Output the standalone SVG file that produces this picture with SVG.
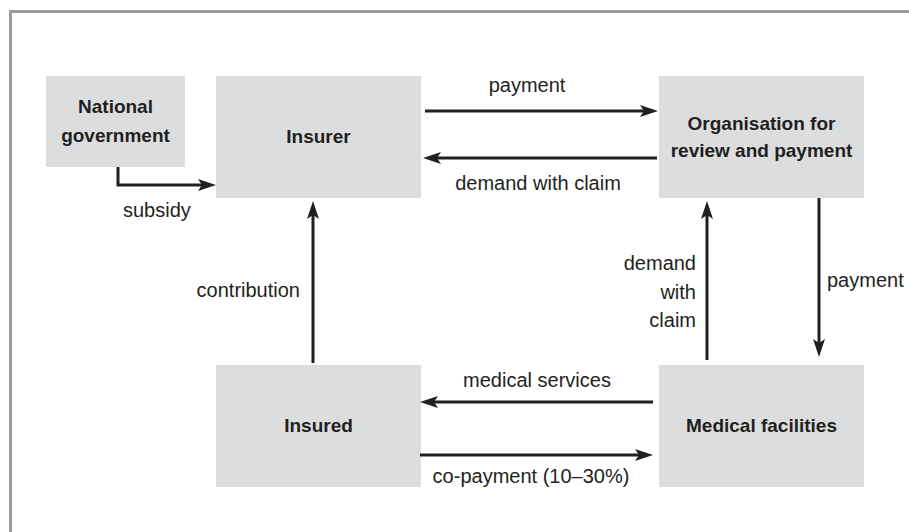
<svg xmlns="http://www.w3.org/2000/svg" width="909" height="532" viewBox="0 0 909 532">
  <style>
    .box { fill: #dcdddf; }
    .title { font-family: "Liberation Sans", Arial, sans-serif; font-weight: bold; font-size: 19px; fill: #231f20; text-anchor: middle; }
    .lbl { font-family: "Liberation Sans", Arial, sans-serif; font-size: 20px; fill: #231f20; }
    .conn { fill: none; stroke: #231f20; stroke-width: 3; marker-end: url(#arrow); }
  </style>
  <defs>
    <marker id="arrow" markerUnits="userSpaceOnUse" markerWidth="20" markerHeight="14" refX="4" refY="6" orient="auto">
      <path d="M0,0 L18,6 L0,12 L4,6 Z" fill="#231f20"/>
    </marker>
  </defs>

  <rect width="909" height="532" fill="#ffffff"/>
  <!-- frame: top and left rules only -->
  <path d="M10.5,532 V11.5 H909" fill="none" stroke="#9a9a9a" stroke-width="3"/>

  <g id="national-government">
    <rect class="box" x="46" y="76" width="139" height="91"/>
    <text class="title" x="115.5" y="113">National</text>
    <text class="title" x="115.5" y="142">government</text>
  </g>
  <g id="insurer">
    <rect class="box" x="216" y="76" width="205" height="122"/>
    <text class="title" x="318.5" y="143">Insurer</text>
  </g>
  <g id="review-organisation">
    <rect class="box" x="659" y="76" width="205" height="122"/>
    <text class="title" x="761.5" y="130">Organisation for</text>
    <text class="title" x="761.5" y="157">review and payment</text>
  </g>
  <g id="insured">
    <rect class="box" x="216" y="365" width="205" height="122"/>
    <text class="title" x="318.5" y="432">Insured</text>
  </g>
  <g id="medical-facilities">
    <rect class="box" x="659" y="365" width="205" height="122"/>
    <text class="title" x="761.5" y="432">Medical facilities</text>
  </g>

  <g id="connectors">
    <path class="conn" d="M425,111 H644"/>
    <path class="conn" d="M657,158 H437"/>
    <path class="conn" d="M118,167 V185 H202"/>
    <path class="conn" d="M313,363 V215"/>
    <path class="conn" d="M707,360 V215"/>
    <path class="conn" d="M819,198 V343"/>
    <path class="conn" d="M653,402 H434"/>
    <path class="conn" d="M420,455 H639"/>
  </g>

  <g id="labels">
    <text class="lbl" x="527" y="92" text-anchor="middle">payment</text>
    <text class="lbl" x="538" y="190" text-anchor="middle">demand with claim</text>
    <text class="lbl" x="123" y="217">subsidy</text>
    <text class="lbl" x="300" y="297" text-anchor="end">contribution</text>
    <text class="lbl" x="696" y="270" text-anchor="end">demand</text>
    <text class="lbl" x="696" y="299" text-anchor="end">with</text>
    <text class="lbl" x="696" y="327" text-anchor="end">claim</text>
    <text class="lbl" x="827" y="287">payment</text>
    <text class="lbl" x="537" y="387" text-anchor="middle">medical services</text>
    <text class="lbl" x="531" y="483" text-anchor="middle">co-payment (10–30%)</text>
  </g>
</svg>
